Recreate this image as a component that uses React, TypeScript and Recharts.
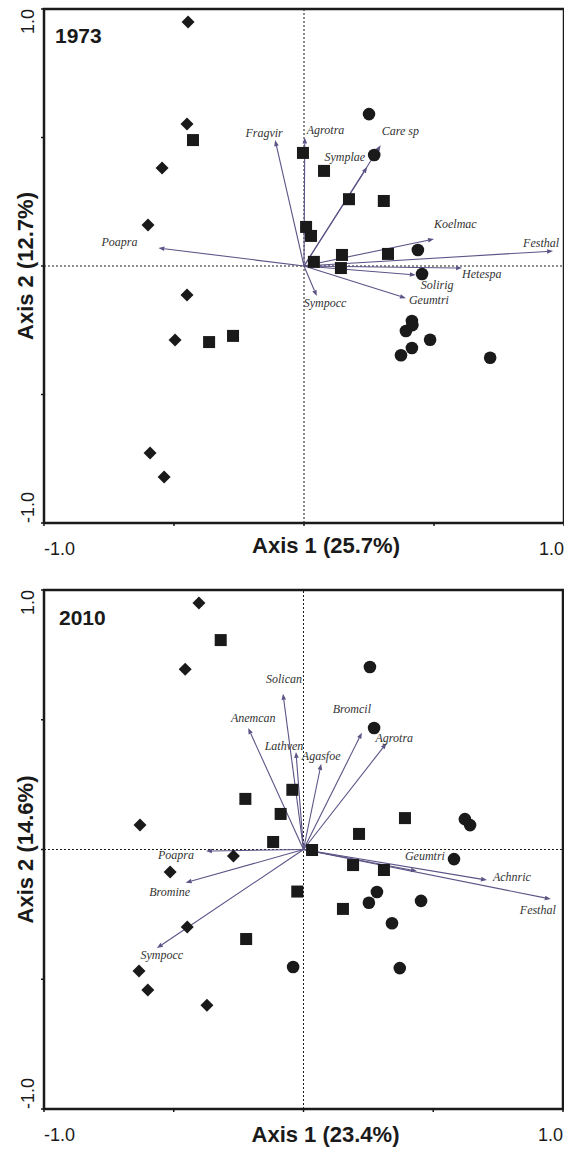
import React from "react";
import {
  ScatterChart,
  Scatter,
  XAxis,
  YAxis,
  ReferenceLine,
  ReferenceArea,
  Label,
} from "recharts";

type Pt = { x: number; y: number };
type Vec = { name: string; x: number; y: number };
type Place = [number, number, "start" | "middle" | "end"];

// ---- 1973 ----
const diamonds1973: Pt[] = [
  { x: -0.446, y: 0.949 },
  { x: -0.45, y: 0.553 },
  { x: -0.546, y: 0.381 },
  { x: -0.6, y: 0.16 },
  { x: -0.45, y: -0.113 },
  { x: -0.496, y: -0.288 },
  { x: -0.592, y: -0.728 },
  { x: -0.538, y: -0.821 },
];
const squares1973: Pt[] = [
  { x: -0.427, y: 0.49 },
  { x: -0.365, y: -0.296 },
  { x: -0.273, y: -0.272 },
  { x: -0.004, y: 0.44 },
  { x: 0.077, y: 0.37 },
  { x: 0.173, y: 0.26 },
  { x: 0.307, y: 0.253 },
  { x: 0.008, y: 0.152 },
  { x: 0.027, y: 0.117 },
  { x: 0.038, y: 0.016 },
  { x: 0.146, y: 0.043 },
  { x: 0.142, y: -0.008 },
  { x: 0.323, y: 0.047 },
];
const circles1973: Pt[] = [
  { x: 0.25, y: 0.591 },
  { x: 0.27, y: 0.432 },
  { x: 0.438, y: 0.062 },
  { x: 0.454, y: -0.031 },
  { x: 0.415, y: -0.214 },
  { x: 0.417, y: -0.23 },
  { x: 0.392, y: -0.253 },
  { x: 0.485, y: -0.287 },
  { x: 0.415, y: -0.319 },
  { x: 0.373, y: -0.347 },
  { x: 0.716, y: -0.357 },
];
const species1973: Vec[] = [
  { name: "Fragvir", x: -0.111, y: 0.49 },
  { name: "Agrotra", x: 0.003, y: 0.5 },
  { name: "Care sp", x: 0.295, y: 0.47 },
  { name: "Symplae", x: 0.243, y: 0.385 },
  { name: "Koelmac", x: 0.5, y: 0.105 },
  { name: "Festhal", x: 0.958, y: 0.058 },
  { name: "Hetespa", x: 0.608, y: -0.008 },
  { name: "Solirig", x: 0.43, y: -0.035 },
  { name: "Geumtri", x: 0.392, y: -0.125 },
  { name: "Sympocc", x: 0.049, y: -0.117 },
  { name: "Poapra", x: -0.56, y: 0.07 },
];
// label offsets from arrow tip (px)
const place1973: Record<string, Place> = {
  Fragvir: [-11, -3, "middle"],
  Agrotra: [2, -4, "start"],
  "Care sp": [1, -10, "start"],
  Symplae: [-2, -6, "end"],
  Koelmac: [0, -11, "start"],
  Festhal: [6, -4, "end"],
  Hetespa: [0, 10, "start"],
  Solirig: [5, 14, "start"],
  Geumtri: [3, 6, "start"],
  Sympocc: [-13, 11, "start"],
  Poapra: [-21, -2, "end"],
};

// ---- 2010 ----
const diamonds2010: Pt[] = [
  { x: -0.403, y: 0.95 },
  { x: -0.456, y: 0.695 },
  { x: -0.63, y: 0.094 },
  { x: -0.27, y: -0.025 },
  { x: -0.514, y: -0.087 },
  { x: -0.448, y: -0.299 },
  { x: -0.634, y: -0.468 },
  { x: -0.6, y: -0.541 },
  { x: -0.372, y: -0.6 },
];
const squares2010: Pt[] = [
  { x: -0.319, y: 0.807 },
  { x: -0.224, y: 0.195 },
  { x: -0.043, y: 0.23 },
  { x: -0.088, y: 0.137 },
  { x: -0.117, y: 0.029 },
  { x: -0.221, y: -0.345 },
  { x: -0.024, y: -0.162 },
  { x: 0.391, y: 0.121 },
  { x: 0.214, y: 0.06 },
  { x: 0.033, y: -0.002 },
  { x: 0.191, y: -0.06 },
  { x: 0.31, y: -0.079 },
  { x: 0.152, y: -0.229 },
];
const circles2010: Pt[] = [
  { x: 0.256, y: 0.703 },
  { x: 0.272, y: 0.468 },
  { x: 0.622, y: 0.117 },
  { x: 0.642, y: 0.094 },
  { x: 0.58, y: -0.037 },
  { x: 0.283, y: -0.164 },
  { x: 0.252, y: -0.205 },
  { x: 0.453, y: -0.198 },
  { x: 0.341, y: -0.284 },
  { x: -0.04, y: -0.453 },
  { x: 0.371, y: -0.457 },
];
const species2010: Vec[] = [
  { name: "Solican", x: -0.079, y: 0.6 },
  { name: "Anemcan", x: -0.213, y: 0.468 },
  { name: "Lathven", x: -0.029, y: 0.376 },
  { name: "Agasfoe", x: 0.068, y: 0.33 },
  { name: "Bromcil", x: 0.225, y: 0.45 },
  { name: "Agrotra", x: 0.32, y: 0.41 },
  { name: "Poapra", x: -0.376, y: -0.006 },
  { name: "Bromine", x: -0.454, y: -0.128 },
  { name: "Sympocc", x: -0.565, y: -0.38 },
  { name: "Geumtri", x: 0.437, y: -0.083 },
  { name: "Achnric", x: 0.707, y: -0.118 },
  { name: "Festhal", x: 0.953, y: -0.191 },
];
const place2010: Record<string, Place> = {
  Solican: [1, -11, "middle"],
  Anemcan: [5, -6, "middle"],
  Lathven: [-12, -2, "middle"],
  Agasfoe: [0, -4, "middle"],
  Bromcil: [-10, -20, "middle"],
  Agrotra: [-11, -1, "start"],
  Poapra: [-12, 8, "end"],
  Bromine: [-16, 13, "middle"],
  Sympocc: [5, 11, "middle"],
  Geumtri: [-12, -11, "start"],
  Achnric: [6, 1, "start"],
  Festhal: [5, 15, "end"],
};

const INK = "#1a1a1a";
const ARROW = "#5b5486";
const SANS = "'Liberation Sans', Arial, sans-serif";
const SERIF = "'Liberation Serif', 'Times New Roman', serif";

const DiamondShape = (p: any) => {
  const { cx, cy } = p;
  const r = 6.5;
  return (
    <polygon
      points={`${cx},${cy - r} ${cx + r},${cy} ${cx},${cy + r} ${cx - r},${cy}`}
      fill={INK}
    />
  );
};
const SquareShape = (p: any) => (
  <rect x={p.cx - 6} y={p.cy - 6} width={12} height={12} fill={INK} />
);
const CircleShape = (p: any) => <circle cx={p.cx} cy={p.cy} r={6.3} fill={INK} />;

const arrowShape = (name: string, place: Place) => (p: any) => {
  const { x1, y1, x2, y2 } = p;
  const dx = x2 - x1;
  const dy = y2 - y1;
  const len = Math.hypot(dx, dy) || 1;
  const ux = dx / len;
  const uy = dy / len;
  const hl = 6;
  const hw = 2.3;
  const bx = x2 - ux * hl;
  const by = y2 - uy * hl;
  return (
    <g>
      <line x1={x1} y1={y1} x2={bx} y2={by} stroke={ARROW} strokeWidth={1.1} />
      <polygon
        points={`${x2},${y2} ${bx - uy * hw},${by + ux * hw} ${bx + uy * hw},${by - ux * hw}`}
        fill={ARROW}
      />
      <text
        x={x2 + place[0]}
        y={y2 + place[1]}
        textAnchor={place[2]}
        fontFamily={SERIF}
        fontStyle="italic"
        fontSize={12}
        fill="#333"
      >
        {name}
      </text>
    </g>
  );
};

const XTick = (p: any) => {
  const v = p.payload.value;
  if (Math.abs(v) !== 1) return <g />;
  return (
    <text
      x={p.x}
      y={p.y + 27}
      textAnchor={v < 0 ? "start" : "end"}
      fontFamily={SANS}
      fontSize={18}
      fill={INK}
    >
      {v.toFixed(1)}
    </text>
  );
};

const YTick = (p: any) => {
  const v = p.payload.value;
  if (Math.abs(v) !== 1) return <g />;
  const bx = p.x - 5;
  return (
    <text
      x={bx}
      y={p.y}
      transform={`rotate(-90 ${bx} ${p.y})`}
      textAnchor={v > 0 ? "end" : "start"}
      fontFamily={SANS}
      fontSize={18}
      fill={INK}
    >
      {v.toFixed(1)}
    </text>
  );
};

interface PanelProps {
  year: string;
  xTitle: string;
  yTitle: string;
  diamonds: Pt[];
  squares: Pt[];
  circles: Pt[];
  species: Vec[];
  place: Record<string, Place>;
  height: number;
  margin: { top: number; right: number; bottom: number; left: number };
  xTitleDy: number;
  yearDx: number;
  yearDy: number;
}

function Panel(props: PanelProps) {
  const { year, xTitle, yTitle, diamonds, squares, circles, species, place } = props;
  const ticks = [-1, -0.5, 0, 0.5, 1];
  return (
    <ScatterChart width={564} height={props.height} margin={props.margin}>
      <XAxis
        type="number"
        dataKey="x"
        domain={[-1, 1]}
        ticks={ticks}
        axisLine={false}
        tickSize={3}
        tickLine={{ stroke: INK, strokeWidth: 1.5 }}
        tick={<XTick />}
        height={30}
        interval={0}
      >
        <Label
          content={(lp: any) => {
            const vb = lp.viewBox;
            return (
              <text
                x={vb.x + vb.width / 2 + 22}
                y={vb.y + props.xTitleDy}
                textAnchor="middle"
                fontFamily={SANS}
                fontWeight="bold"
                fontSize={22}
                fill={INK}
              >
                {xTitle}
              </text>
            );
          }}
        />
      </XAxis>
      <YAxis
        type="number"
        dataKey="y"
        domain={[-1, 1]}
        ticks={ticks}
        axisLine={false}
        tickSize={3}
        tickLine={{ stroke: INK, strokeWidth: 1.5 }}
        tick={<YTick />}
        width={30}
        interval={0}
      >
        <Label
          content={(lp: any) => {
            const vb = lp.viewBox;
            const bx = 33;
            const cy = vb.y + vb.height / 2;
            return (
              <text
                x={bx}
                y={cy}
                transform={`rotate(-90 ${bx} ${cy})`}
                textAnchor="middle"
                fontFamily={SANS}
                fontWeight="bold"
                fontSize={22}
                fill={INK}
              >
                {yTitle}
              </text>
            );
          }}
        />
      </YAxis>
      <ReferenceArea
        x1={-1}
        x2={1}
        y1={-1}
        y2={1}
        fill="none"
        fillOpacity={0}
        stroke={INK}
        strokeWidth={2.5}
        label={(lp: any) => {
          const vb = lp.viewBox;
          return (
            <text
              x={vb.x + props.yearDx}
              y={vb.y + props.yearDy}
              fontFamily={SANS}
              fontWeight="bold"
              fontSize={21}
              fill={INK}
            >
              {year}
            </text>
          );
        }}
      />
      <ReferenceLine x={0} stroke={INK} strokeDasharray="2 2" strokeWidth={1} />
      <ReferenceLine y={0} stroke={INK} strokeDasharray="2 2" strokeWidth={1} />
      {species.map((s) => (
        <ReferenceLine
          key={s.name}
          segment={[
            { x: 0, y: 0 },
            { x: s.x, y: s.y },
          ]}
          shape={arrowShape(s.name, place[s.name])}
        />
      ))}
      <Scatter data={diamonds} shape={DiamondShape} isAnimationActive={false} />
      <Scatter data={squares} shape={SquareShape} isAnimationActive={false} />
      <Scatter data={circles} shape={CircleShape} isAnimationActive={false} />
    </ScatterChart>
  );
}

export default function App() {
  return (
    <div style={{ position: "absolute", left: 0, top: 0, width: 564, height: 1149, background: "#fff" }}>
      <Panel
        year="1973"
        xTitle="Axis 1 (25.7%)"
        yTitle="Axis 2 (12.7%)"
        diamonds={diamonds1973}
        squares={squares1973}
        circles={circles1973}
        species={species1973}
        place={place1973}
        height={580}
        margin={{ top: 9, right: 0, bottom: 27, left: 14 }}
        xTitleDy={30}
        yearDx={11}
        yearDy={34}
      />
      <Panel
        year="2010"
        xTitle="Axis 1 (23.4%)"
        yTitle="Axis 2 (14.6%)"
        diamonds={diamonds2010}
        squares={squares2010}
        circles={circles2010}
        species={species2010}
        place={place2010}
        height={569}
        margin={{ top: 10, right: 1, bottom: 10, left: 14 }}
        xTitleDy={33}
        yearDx={15}
        yearDy={35}
      />
    </div>
  );
}
